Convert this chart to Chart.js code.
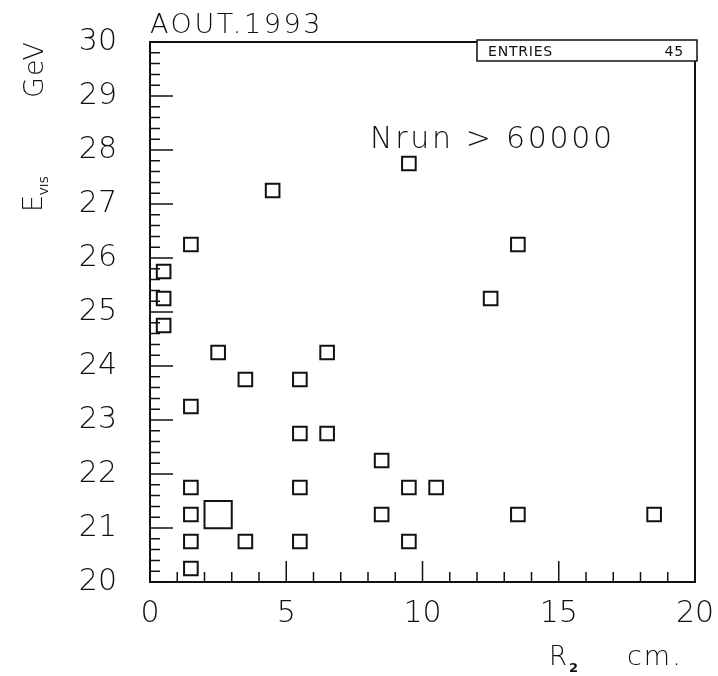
<!DOCTYPE html>
<html>
<head>
<meta charset="utf-8">
<script src="https://cdn.jsdelivr.net/npm/chart.js@4.4.0/dist/chart.umd.min.js"></script>
<style>
  html, body { margin: 0; padding: 0; background: #fff; }
  #wrap { width: 718px; height: 676px; }
</style>
</head>
<body>
<div id="wrap"><canvas id="boxChart"></canvas></div>
<script>
// cell centres: R2 (cm) and Evis (GeV), with the cell contents
const r2 = [0.5, 0.5, 0.5, 1.5, 1.5, 1.5, 1.5, 1.5, 1.5, 2.5,
            2.5, 3.5, 3.5, 4.5, 5.5, 5.5, 5.5, 5.5, 6.5, 6.5,
            8.5, 8.5, 9.5, 9.5, 9.5, 10.5, 12.5, 13.5, 13.5, 18.5];
const evis = [25.75, 25.25, 24.75, 26.25, 23.25, 21.75, 21.25, 20.75, 20.25, 24.25,
              21.25, 23.75, 20.75, 27.25, 23.75, 22.75, 21.75, 20.75, 24.25, 22.75,
              22.25, 21.25, 27.75, 21.75, 20.75, 21.75, 25.25, 26.25, 21.25, 21.25];
const counts = [1, 1, 1, 1, 1, 1, 1, 1, 1, 1,
                2, 1, 1, 1, 1, 1, 1, 1, 1, 1,
                1, 1, 1, 1, 1, 1, 1, 1, 1, 1];

const xTicks = [0, 5, 10, 15, 20];
const yTicks = [20, 21, 22, 23, 24, 25, 26, 27, 28, 29, 30];
const entries = 45;

const FONT = "'DejaVu Sans', sans-serif";
const INK = '#111';
const maxCount = Math.max(...counts);

function drawText(ctx, str, x, y, size, spacing, align, weight) {
    ctx.font = (weight || 200) + ' ' + size + 'px ' + FONT;
    ctx.letterSpacing = (spacing || 0) + 'px';
    ctx.textAlign = align || 'left';
    ctx.fillText(str, x, y);
}

const paperPlugin = {
    id: 'paper',
    beforeDatasetsDraw(chart) {
        const { ctx, chartArea: a, scales: { x, y } } = chart;
        ctx.save();
        ctx.strokeStyle = INK;
        ctx.lineWidth = 2;
        ctx.strokeRect(a.left, a.top, a.right - a.left, a.bottom - a.top);

        // tick marks drawn inside the frame
        ctx.lineWidth = 1.5;
        ctx.beginPath();
        for (let i = 0; i <= 50; i++) {
            const py = y.getPixelForValue(20 + i * 0.2);
            const len = i % 5 === 0 ? 23 : 10;
            ctx.moveTo(a.left, py);
            ctx.lineTo(a.left + len, py);
        }
        for (let v = 0; v <= 20; v++) {
            const px = x.getPixelForValue(v);
            const len = v % 5 === 0 ? 21 : 10;
            ctx.moveTo(px, a.bottom);
            ctx.lineTo(px, a.bottom - len);
        }
        ctx.stroke();
        ctx.restore();
    },
    afterDraw(chart) {
        const { ctx } = chart;
        ctx.save();
        ctx.fillStyle = INK;
        ctx.strokeStyle = INK;

        // title and comment
        drawText(ctx, 'AOUT.1993', 150, 33, 27, 2.6);
        drawText(ctx, 'Nrun > 60000', 370, 148, 30, 2.7);

        // statistics box
        ctx.fillStyle = '#fff';
        ctx.fillRect(477, 40, 220, 21);
        ctx.lineWidth = 1.5;
        ctx.strokeRect(477, 40, 220, 21);
        ctx.fillStyle = INK;
        drawText(ctx, 'ENTRIES', 488, 56, 14, 0.8, 'left', 400);
        drawText(ctx, String(entries), 684, 56, 14, 0.8, 'right', 400);

        // x title
        drawText(ctx, 'R', 549, 665, 26, 0);
        drawText(ctx, '2', 569, 672, 13, 0, 'left', 700);
        drawText(ctx, 'cm.', 627, 665, 27, 2);

        // y title, rotated
        ctx.save();
        ctx.translate(42, 212);
        ctx.rotate(-Math.PI / 2);
        drawText(ctx, 'E', 0, 0, 27, 0);
        drawText(ctx, 'VIS', 17, 6, 11, 0.5, 'left', 400);
        ctx.restore();
        ctx.save();
        ctx.translate(43, 98);
        ctx.rotate(-Math.PI / 2);
        drawText(ctx, 'GeV', 0, 0, 27, 1);
        ctx.restore();

        ctx.restore();
    }
};

const points = r2.map((v, i) => ({ x: v, y: evis[i], n: counts[i] }));

new Chart(document.getElementById('boxChart'), {
    type: 'scatter',
    data: {
        datasets: [{
            data: points,
            pointStyle: 'rect',
            backgroundColor: 'rgba(255,255,255,0)',
            borderColor: INK,
            pointBorderWidth: 2,
            pointRadius: (c) => {
                const s = c.chart.scales.x;
                const cell = s.getPixelForValue(1) - s.getPixelForValue(0);
                const side = cell * c.raw.n / maxCount;
                return side / Math.SQRT2;
            },
            pointHoverRadius: 0
        }]
    },
    options: {
        responsive: true,
        maintainAspectRatio: false,
        animation: false,
        layout: { padding: { top: 42, right: 23, left: 0, bottom: 0 } },
        plugins: {
            legend: { display: false },
            tooltip: { enabled: false }
        },
        scales: {
            x: {
                type: 'linear',
                min: 0,
                max: 20,
                afterFit(s) {
                    s.height = 94;
                    s.paddingLeft = 0;
                    s.paddingRight = 0;
                },
                afterBuildTicks(s) { s.ticks = xTicks.map(v => ({ value: v })); },
                grid: { display: false, drawTicks: false },
                border: { display: false },
                ticks: {
                    color: INK,
                    padding: 14,
                    maxRotation: 0,
                    autoSkip: false,
                    font: { family: FONT, size: 30, weight: 200 }
                }
            },
            y: {
                type: 'linear',
                min: 20,
                max: 30,
                afterFit(s) {
                    s.width = 150;
                    s.paddingTop = 0;
                    s.paddingBottom = 0;
                },
                afterBuildTicks(s) { s.ticks = yTicks.map(v => ({ value: v })); },
                grid: { display: false, drawTicks: false },
                border: { display: false },
                ticks: {
                    color: INK,
                    padding: 33,
                    autoSkip: false,
                    font: { family: FONT, size: 30, weight: 200 }
                }
            }
        }
    },
    plugins: [paperPlugin]
});
</script>
</body>
</html>
